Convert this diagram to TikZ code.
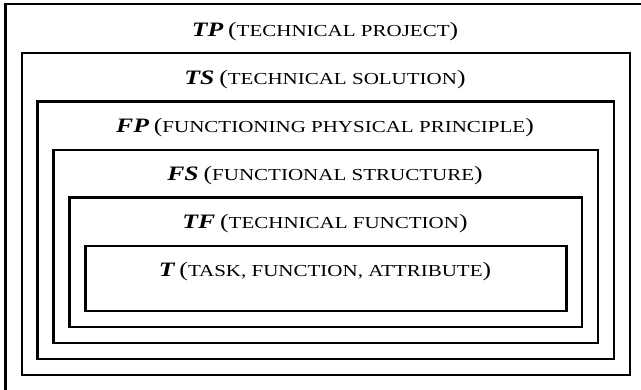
\documentclass[tikz,border=0pt]{standalone}
\usepackage{fontspec}
\newfontfamily\mainf[FakeStretch=1.25]{Liberation Serif}
\newcommand\lbl[2]{{\fontsize{20.5}{24}\selectfont\mainf\bfseries\itshape #1}\hspace{5pt}{\fontsize{20.5}{24}\selectfont\mainf(}{\fontsize{16.8}{20}\selectfont\mainf #2}{\fontsize{20.5}{24}\selectfont\mainf)}}
\tikzset{
  frame/.style={draw=black, line width=2.3pt},
  lab/.style={anchor=base, inner sep=0pt, text=black}
}
\begin{document}
\begin{tikzpicture}[x=1pt,y=1pt]
\useasboundingbox (0,0) rectangle (641,390);
\fill[white] (0,0) rectangle (641,390);
\begin{scope}
\clip (0,0) rectangle (641,390);
\draw[frame] (5.5,385.7) rectangle (646,-6);
\end{scope}
\draw[frame] (21.7,337) rectangle (630,15);
\draw[frame] (37.5,288.5) rectangle (614,31);
\draw[frame] (53.4,240) rectangle (598.2,46.8);
\draw[frame] (69.4,192.5) rectangle (582,63.3);
\draw[frame] (85.6,144) rectangle (566.5,79.3);
\node[lab] (tp) at (325,353.5) {\lbl{TP}{TECHNICAL PROJECT}};
\node[lab] (ts) at (325,305.5) {\lbl{TS}{TECHNICAL SOLUTION}};
\node[lab] (fp) at (325,257.5) {\lbl{FP}{FUNCTIONING PHYSICAL PRINCIPLE}};
\node[lab] (fs) at (325,209.5) {\lbl{FS}{FUNCTIONAL STRUCTURE}};
\node[lab] (tf) at (325,161.5) {\lbl{TF}{TECHNICAL FUNCTION}};
\node[lab] (t)  at (325,113.8) {\lbl{T}{TASK, FUNCTION, ATTRIBUTE}};
\end{tikzpicture}
\end{document}
